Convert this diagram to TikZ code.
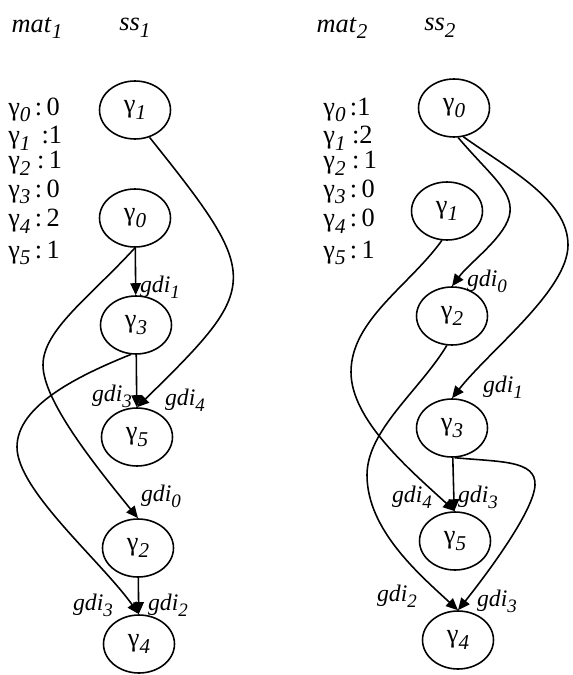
\documentclass[tikz,border=0pt]{standalone}
\usepackage{fontspec}
\setmainfont{Liberation Serif}
\usepackage{graphicx}
\usepackage{tikz}
\usetikzlibrary{positioning, arrows.meta, shapes.geometric}

\newcommand{\sbs}[1]{\raisebox{-0.55ex}{\scalebox{0.8}{\itshape #1}}}
\newcommand{\gsub}[1]{γ\sbs{#1}}
\newcommand{\gdilab}[1]{\textit{gdi}\sbs{#1}}

\begin{document}
\begin{tikzpicture}[
    x=0.02cm, y=-0.02cm,
    state/.style={ellipse, draw, line width=0.9pt, minimum width=1.42cm, minimum height=1.16cm, inner sep=0pt, font=\fontsize{15}{17}\selectfont},
    entry/.style={anchor=west, inner sep=0pt, font=\fontsize{15}{17}\selectfont},
    head/.style={inner sep=0pt, font=\fontsize{15}{17}\selectfont},
    lbl/.style={inner sep=0pt, font=\fontsize{13.5}{15}\selectfont},
    arrow/.style={-{Triangle[length=2.4mm, width=2.1mm]}, line width=0.9pt}
]
\fill[white] (0,0) rectangle (572,675);

% headers
\node[head] (h1) at (37,28) {\textit{mat}\sbs{1}};
\node[head] (h2) at (135,28) {\textit{ss}\sbs{1}};
\node[head] (h3) at (342,28) {\textit{mat}\sbs{2}};
\node[head] (h4) at (440,28) {\textit{ss}\sbs{2}};

% mat_1
\node[entry] (m10) at (8,110) {\gsub{0}\,:\,0};
\node[entry] (m11) at (8,138) {\gsub{1}\ \,:1};
\node[entry] (m12) at (8,163) {\gsub{2}\ :\,1};
\node[entry] (m13) at (8,192) {\gsub{3}\,:\,0};
\node[entry] (m14) at (8,221) {\gsub{4}\,:\,2};
\node[entry] (m15) at (8,253) {\gsub{5}\,:\,1};

% mat_2
\node[entry] (m20) at (323,110) {\gsub{0}\,:1};
\node[entry] (m21) at (323,138) {\gsub{1}\ :2};
\node[entry] (m22) at (323,163) {\gsub{2}\ :\,1};
\node[entry] (m23) at (323,192) {\gsub{3}\,:\,0};
\node[entry] (m24) at (323,221) {\gsub{4}\,:\,0};
\node[entry] (m25) at (323,253) {\gsub{5}\,:\,1};

% ss_1
\node[state] (a1) at (135,110) {\gsub{1}};
\node[state] (a0) at (135,218) {\gsub{0}};
\node[state] (a3) at (136,325) {\gsub{3}};
\node[state] (a5) at (137,437) {\gsub{5}};
\node[state] (a2) at (138,548) {\gsub{2}};
\node[state] (a4) at (139,644) {\gsub{4}};

% ss_2
\node[state] (b0) at (454,108) {\gsub{0}};
\node[state] (b1) at (447,211) {\gsub{1}};
\node[state] (b2) at (452,316) {\gsub{2}};
\node[state] (b3) at (452,428) {\gsub{3}};
\node[state] (b5) at (455,541) {\gsub{5}};
\node[state] (b4) at (458,640) {\gsub{4}};

% edges of ss_1
\draw[arrow] (a0) -- (a3);
\draw[arrow] (a3) -- (a5);
\draw[arrow] (a2) -- (a4);
\draw[arrow] (a1.-62) .. controls (262,278) and (262,285) .. (a5.north);
\draw[arrow] (a0.south) .. controls (90,297) and (43,330) .. (43,365)
    .. controls (43,400) and (93,463) .. (a2.north);
\draw[arrow] (a3.-100) .. controls (80,375) and (17,405) .. (17,447)
    .. controls (17,490) and (100,560) .. (a4.north);

% edges of ss_2
\draw[arrow] (b3) -- (b5);
\draw[arrow] (b0.-82) .. controls (490,175) and (512,190) .. (510,212)
    .. controls (508,235) and (470,262) .. (b2.north);
\draw[arrow] (b0.-72) .. controls (510,170) and (568,200) .. (568,245)
    .. controls (568,290) and (490,350) .. (b3.north);
\draw[arrow] (b1.-100) .. controls (410,285) and (351,320) .. (351,372)
    .. controls (351,420) and (410,470) .. (b5.north);
\draw[arrow] (b2.-100) .. controls (420,390) and (367,430) .. (367,475)
    .. controls (367,530) and (420,575) .. (b4.north);
\draw[arrow] (b3.-85) .. controls (500,462) and (536,460) .. (535,485)
    .. controls (534,510) and (490,570) .. (b4.north);

% labels of ss_1
\node[lbl] (e1) at (160,287) {\gdilab{1}};
\node[lbl] (e2) at (112,396) {\gdilab{3}};
\node[lbl] (e3) at (185,400) {\gdilab{4}};
\node[lbl] (e4) at (161,496) {\gdilab{0}};
\node[lbl] (e5) at (93,605) {\gdilab{3}};
\node[lbl] (e6) at (168,605) {\gdilab{2}};

% labels of ss_2
\node[lbl] (f1) at (487,281) {\gdilab{0}};
\node[lbl] (f2) at (503,387) {\gdilab{1}};
\node[lbl] (f3) at (412,497) {\gdilab{4}};
\node[lbl] (f4) at (478,497) {\gdilab{3}};
\node[lbl] (f5) at (397,596) {\gdilab{2}};
\node[lbl] (f6) at (497,601) {\gdilab{3}};

\end{tikzpicture}
\end{document}
